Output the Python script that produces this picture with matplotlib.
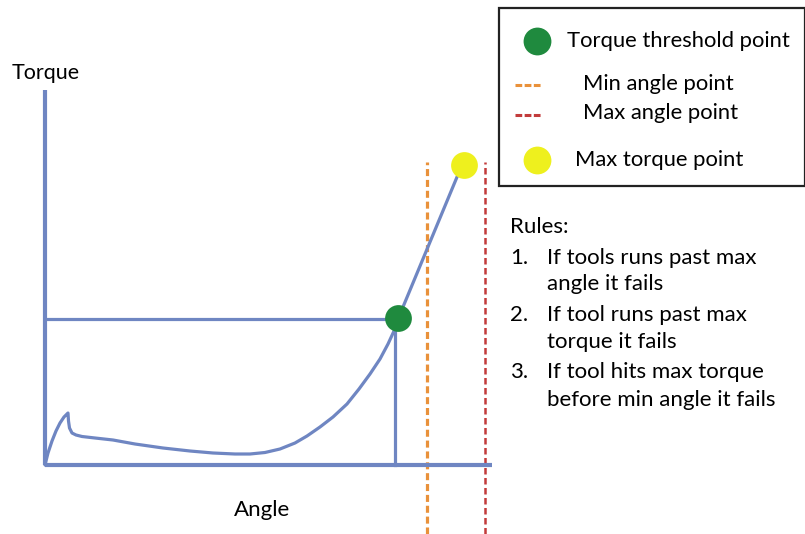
import matplotlib
matplotlib.use("Agg")
import matplotlib.pyplot as plt
from matplotlib.patches import Rectangle

# ---- data (diagram units: angle to the right, torque upward) ----
curve_angle = [0, 3, 7, 11, 15, 19, 22, 23, 23.5, 24.5, 27, 31, 37, 50, 68, 90, 118, 145, 168, 190, 205,
               220, 235, 250, 262, 275, 288, 302, 314, 325, 335, 343, 349, 353]
curve_torque = [0, 12, 24, 34, 42, 48, 51, 52, 44, 37, 32, 30, 28.5, 27, 25, 21, 17, 14, 12, 11, 11,
                12.5, 16, 22, 29, 38, 48, 61, 76, 91, 106, 121, 134, 146]
threshold_angle, threshold_torque = 353, 146
max_torque_angle, max_torque = 417, 300
min_angle, max_angle = 382, 440
axis_len_angle, axis_len_torque = 447, 375
dash_top = 303

legend_labels = ["Torque threshold point", "Min angle point", "Max angle point", "Max torque point"]
rules_title = "Rules:"
rule_numbers = ["1.", "2.", "3."]
rule_lines = [["If tools runs past max", "angle it fails"],
              ["If tool runs past max", "torque it fails"],
              ["If tool hits max torque", "before min angle it fails"]]

BLUE = "#6f86c2"
GREEN = "#1f8a3e"
YELLOW = "#eef01e"
ORANGE = "#e9913a"
RED = "#c23b3b"
FONT = "Lato"

W, H = 805, 534
fig = plt.figure(figsize=(W / 100, H / 100), dpi=100)
ax = fig.add_axes([0, 0, 1, 1])
ox, oy = 45, 465  # pixel position of diagram origin
ax.set_xlim(-ox, W - ox)
ax.set_ylim(oy - H, oy)
ax.axis("off")

def P(x, y):
    """pixel -> diagram coords (only for annotation placement)"""
    return x - ox, oy - y

# axes of the diagram
ax.plot([0, 0], [0, axis_len_torque], color=BLUE, lw=3, solid_capstyle="butt", zorder=2)
ax.plot([0, axis_len_angle], [0, 0], color=BLUE, lw=3, solid_capstyle="butt", zorder=2)

# threshold guides
ax.plot([0, threshold_angle], [threshold_torque, threshold_torque], color=BLUE, lw=2.3, zorder=2)
ax.plot([threshold_angle - 3, threshold_angle - 3], [0, threshold_torque], color=BLUE, lw=2.3, zorder=2)

# curve
ax.plot(curve_angle + [max_torque_angle], curve_torque + [max_torque], color=BLUE, lw=2.3,
        solid_joinstyle="round", solid_capstyle="round", zorder=3)

# min / max angle dashed lines
ax.plot([min_angle, min_angle], [oy - H, dash_top], color=ORANGE, lw=2.3, ls=(0, (2.2, 1.2)), zorder=1)
ax.plot([max_angle, max_angle], [oy - H, dash_top], color=RED, lw=1.8, ls=(0, (2.6, 1.4)), zorder=1)

# points
ax.scatter([threshold_angle], [threshold_torque + 1], s=26 ** 2 * 0.55, color=GREEN, zorder=5, linewidths=0)
ax.scatter([max_torque_angle + 2], [max_torque], s=26 ** 2 * 0.55, color=YELLOW, zorder=5, linewidths=0)

# axis labels
ax.text(*P(12, 73), "Torque", fontsize=15.5, family=FONT, va="center", ha="left")
ax.text(*P(262, 510), "Angle", fontsize=16, family=FONT, va="center", ha="center")

# legend box
x0, y0 = P(499, 186)
box = Rectangle((x0, y0), 306, 178, fill=True, facecolor="white", edgecolor="#222222", lw=1.6, zorder=6)
ax.add_patch(box)
ax.scatter(*P(537, 41), s=27 ** 2 * 0.55, color=GREEN, zorder=7, linewidths=0)
ax.scatter(*P(537, 160), s=27 ** 2 * 0.55, color=YELLOW, zorder=7, linewidths=0)
xa, ya = P(515, 85); xb, _ = P(542, 85)
ax.plot([xa, xb], [ya, ya], color=ORANGE, lw=2.2, ls=(0, (2.2, 0.8)), zorder=7)
xa, ya = P(515, 115); xb, _ = P(542, 115)
ax.plot([xa, xb], [ya, ya], color=RED, lw=2.2, ls=(0, (2.2, 0.8)), zorder=7)
for (px, py), lab in zip([(567, 41), (583, 84), (583, 113), (575, 160)], legend_labels):
    ax.text(*P(px, py), lab, fontsize=15.8, family=FONT, va="center", ha="left", zorder=8)

# rules text
RS = 16
ax.text(*P(510, 227), rules_title, fontsize=RS, family=FONT, va="center", ha="left")
for num, lines, (y1, y2) in zip(rule_numbers, rule_lines, [(258, 284), (315, 342), (372, 400)]):
    ax.text(*P(510, y1), num, fontsize=RS, family=FONT, va="center", ha="left")
    ax.text(*P(547, y1), lines[0], fontsize=RS, family=FONT, va="center", ha="left")
    ax.text(*P(547, y2), lines[1], fontsize=RS, family=FONT, va="center", ha="left")

fig.savefig("out.png", dpi=100, facecolor="white")
